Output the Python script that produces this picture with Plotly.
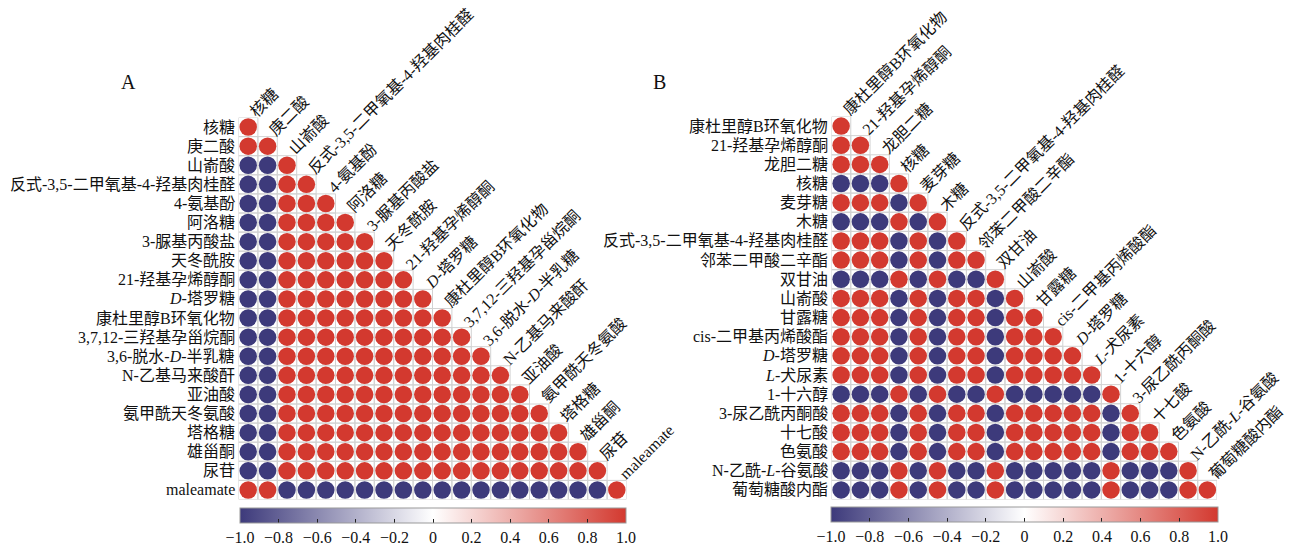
import plotly.graph_objects as go

# ---------------- data ----------------
names_A = ["核糖", "庚二酸", "山嵛酸", "反式-3,5-二甲氧基-4-羟基肉桂醛", "4-氨基酚", "阿洛糖",
           "3-脲基丙酸盐", "天冬酰胺", "21-羟基孕烯醇酮", "<i>D</i>-塔罗糖", "康杜里醇B环氧化物",
           "3,7,12-三羟基孕甾烷酮", "3,6-脱水-<i>D</i>-半乳糖", "N-乙基马来酸酐", "亚油酸",
           "氨甲酰天冬氨酸", "塔格糖", "雄甾酮", "尿苷", "maleamate"]

corr_A = [
    [1],
    [1, 1],
    [-1, -1, 1],
    [-1, -1, 1, 1],
    [-1, -1, 1, 1, 1],
    [-1, -1, 1, 1, 1, 1],
    [-1, -1, 1, 1, 1, 1, 1],
    [-1, -1, 1, 1, 1, 1, 1, 1],
    [-1, -1, 1, 1, 1, 1, 1, 1, 1],
    [-1, -1, 1, 1, 1, 1, 1, 1, 1, 1],
    [-1, -1, 1, 1, 1, 1, 1, 1, 1, 1, 1],
    [-1, -1, 1, 1, 1, 1, 1, 1, 1, 1, 1, 1],
    [-1, -1, 1, 1, 1, 1, 1, 1, 1, 1, 1, 1, 1],
    [-1, -1, 1, 1, 1, 1, 1, 1, 1, 1, 1, 1, 1, 1],
    [-1, -1, 1, 1, 1, 1, 1, 1, 1, 1, 1, 1, 1, 1, 1],
    [-1, -1, 1, 1, 1, 1, 1, 1, 1, 1, 1, 1, 1, 1, 1, 1],
    [-1, -1, 1, 1, 1, 1, 1, 1, 1, 1, 1, 1, 1, 1, 1, 1, 1],
    [-1, -1, 1, 1, 1, 1, 1, 1, 1, 1, 1, 1, 1, 1, 1, 1, 1, 1],
    [-1, -1, 1, 1, 1, 1, 1, 1, 1, 1, 1, 1, 1, 1, 1, 1, 1, 1, 1],
    [1, 1, -1, -1, -1, -1, -1, -1, -1, -1, -1, -1, -1, -1, -1, -1, -1, -1, -1, 1],
]

names_B = ["康杜里醇B环氧化物", "21-羟基孕烯醇酮", "龙胆二糖", "核糖", "麦芽糖", "木糖",
           "反式-3,5-二甲氧基-4-羟基肉桂醛", "邻苯二甲酸二辛酯", "双甘油", "山嵛酸", "甘露糖",
           "cis-二甲基丙烯酸酯", "<i>D</i>-塔罗糖", "<i>L</i>-犬尿素", "1-十六醇", "3-尿乙酰丙酮酸",
           "十七酸", "色氨酸", "N-乙酰-<i>L</i>-谷氨酸", "葡萄糖酸内酯"]

corr_B = [
    [1],
    [1, 1],
    [1, 1, 1],
    [-1, -1, -1, 1],
    [1, 1, 1, -1, 1],
    [-1, -1, -1, 1, -1, 1],
    [1, 1, 1, -1, 1, -1, 1],
    [1, 1, 1, -1, 1, -1, 1, 1],
    [-1, -1, -1, 1, -1, 1, -1, -1, 1],
    [1, 1, 1, -1, 1, -1, 1, 1, -1, 1],
    [1, 1, 1, -1, 1, -1, 1, 1, -1, 1, 1],
    [1, 1, 1, -1, 1, -1, 1, 1, -1, 1, 1, 1],
    [1, 1, 1, -1, 1, -1, 1, 1, -1, 1, 1, 1, 1],
    [1, 1, 1, -1, 1, -1, 1, 1, -1, 1, 1, 1, 1, 1],
    [-1, -1, -1, 1, -1, 1, -1, -1, 1, -1, -1, -1, -1, -1, 1],
    [1, 1, 1, -1, 1, -1, 1, 1, -1, 1, 1, 1, 1, 1, -1, 1],
    [1, 1, 1, -1, 1, -1, 1, 1, -1, 1, 1, 1, 1, 1, -1, 1, 1],
    [1, 1, 1, -1, 1, -1, 1, 1, -1, 1, 1, 1, 1, 1, -1, 1, 1, 1],
    [-1, -1, -1, 1, -1, 1, -1, -1, 1, -1, -1, -1, -1, -1, 1, -1, -1, -1, 1],
    [-1, -1, -1, 1, -1, 1, -1, -1, 1, -1, -1, -1, -1, -1, 1, -1, -1, -1, 1, 1],
]

cbar_vals = [-1.0, -0.8, -0.6, -0.4, -0.2, 0, 0.2, 0.4, 0.6, 0.8, 1.0]
cbar_text = ["−1.0", "−0.8", "−0.6", "−0.4", "−0.2", "0", "0.2", "0.4", "0.6", "0.8", "1.0"]

# ---------------- style ----------------
W, H = 1297, 547
FONT = "Liberation Serif, 'Noto Sans CJK SC', serif"
CSCALE = [[0.0, "#3D3A7B"], [0.5, "#FFFFFF"], [1.0, "#D3392F"]]
CIRCLE = 17.5
GRID = "#D2D2D2"

panels = [
    dict(names=names_A, corr=corr_A, xa="x", ya="y",
         xdom=(238.5, 626.5), ydom=(117.5, 499.5), cbx=(240, 626), cby=508, letter="A", lpos=(128, 82)),
    dict(names=names_B, corr=corr_B, xa="x2", ya="y2",
         xdom=(831.5, 1217.0), ydom=(116.5, 499.5), cbx=(831, 1218), cby=507, letter="B", lpos=(660, 82)),
]

fig = go.Figure()
shapes = []
annotations = []
layout_axes = {}

for k, p in enumerate(panels):
    names, corr = p["names"], p["corr"]
    n = len(names)
    xs, ys, cs, ss = [], [], [], []
    for i, row in enumerate(corr):
        for j, v in enumerate(row):
            xs.append(j)
            ys.append(i)
            cs.append(v)
            ss.append(CIRCLE * abs(v))
            shapes.append(dict(type="rect", xref=p["xa"], yref=p["ya"],
                               x0=j - 0.5, x1=j + 0.5, y0=i - 0.5, y1=i + 0.5,
                               line=dict(color=GRID, width=1), fillcolor="rgba(0,0,0,0)",
                               layer="below"))
    cb_len = (p["cbx"][1] - p["cbx"][0]) / W
    cb_xc = (p["cbx"][0] + p["cbx"][1]) / 2 / W
    fig.add_trace(go.Scatter(
        x=xs, y=ys, mode="markers", xaxis=p["xa"], yaxis=p["ya"],
        hoverinfo="skip", showlegend=False,
        marker=dict(color=cs, size=ss, opacity=1, colorscale=CSCALE, cmin=-1, cmax=1,
                    line=dict(width=0), showscale=True,
                    colorbar=dict(orientation="h", x=cb_xc, xanchor="center",
                                  y=1 - p["cby"] / H, yanchor="top",
                                  len=cb_len, lenmode="fraction", thickness=15,
                                  xpad=0, ypad=0, outlinewidth=1, outlinecolor="#999999",
                                  tickvals=cbar_vals, ticktext=cbar_text,
                                  ticks="inside", ticklen=4, tickcolor="#222222", tickwidth=1,
                                  tickfont=dict(family=FONT, size=16, color="#111111"))),
    ))
    suffix = "" if k == 0 else "2"
    layout_axes["xaxis" + suffix] = dict(domain=[p["xdom"][0] / W, p["xdom"][1] / W],
                                         range=[-0.5, n - 0.5], showgrid=False, zeroline=False,
                                         showticklabels=False, showline=False, ticks="",
                                         anchor="y" + suffix, fixedrange=True)
    layout_axes["yaxis" + suffix] = dict(domain=[1 - p["ydom"][1] / H, 1 - p["ydom"][0] / H],
                                         range=[n - 0.5, -0.5], showgrid=False, zeroline=False,
                                         showticklabels=False, showline=False, ticks="",
                                         anchor="x" + suffix, fixedrange=True)
    for i, nm in enumerate(names):
        # row labels
        annotations.append(dict(x=-0.5, y=i, xref=p["xa"], yref=p["ya"], text=nm,
                                showarrow=False, xanchor="right", yanchor="middle", xshift=-2,
                                font=dict(family=FONT, size=16, color="#111111")))
        # diagonal column labels
        annotations.append(dict(x=i, y=i - 0.5, xref=p["xa"], yref=p["ya"], text=nm,
                                showarrow=False, xanchor="left", yanchor="bottom",
                                textangle=-45, xshift=-4, yshift=-5,
                                font=dict(family=FONT, size=16, color="#111111")))
    annotations.append(dict(x=p["lpos"][0] / W, y=1 - p["lpos"][1] / H, xref="paper", yref="paper",
                            text=p["letter"], showarrow=False, xanchor="center", yanchor="middle",
                            font=dict(family=FONT, size=20, color="#111111")))

fig.update_layout(width=W, height=H, margin=dict(l=0, r=0, t=0, b=0, autoexpand=False),
                  paper_bgcolor="white", plot_bgcolor="white",
                  shapes=shapes, annotations=annotations, **layout_axes)

fig.write_html("out.html", config={"displayModeBar": False},
               post_script="document.body.style.margin='0px';document.body.style.overflow='hidden';")
